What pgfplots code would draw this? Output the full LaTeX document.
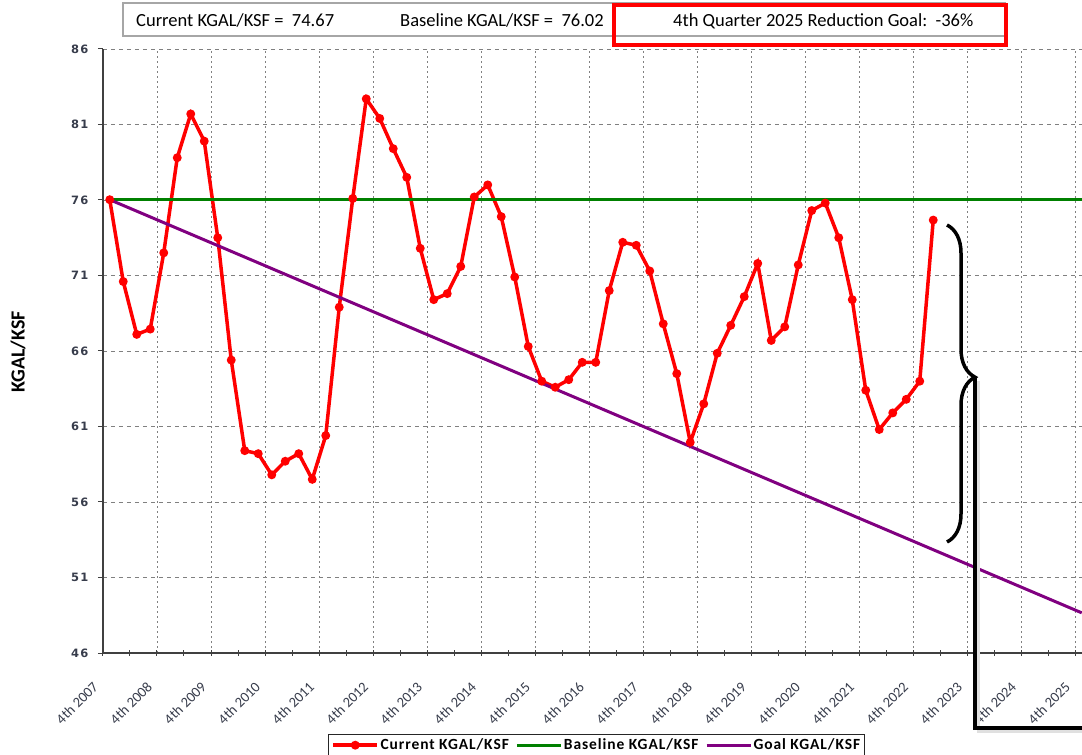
\documentclass[border=0pt]{standalone}
\usepackage{fontspec}
\setmainfont{Carlito}
\newfontfamily\ytickfont{DejaVu Sans}[LetterSpace=10]
\newfontfamily\xtickfont{Carlito}
\newfontfamily\legfont{Carlito}[LetterSpace=6]
\usepackage{pgfplots}
\pgfplotsset{compat=1.18}
\usetikzlibrary{decorations.pathreplacing}
\definecolor{cred}{RGB}{255,0,0}
\definecolor{cgreen}{RGB}{0,128,0}
\definecolor{cpurple}{RGB}{128,0,128}
\definecolor{axisgray}{RGB}{64,64,64}
\definecolor{gridgray}{RGB}{128,128,128}
\definecolor{boxgray}{RGB}{166,166,166}
\definecolor{ticktext}{RGB}{55,60,75}
\begin{document}
\begin{tikzpicture}[x=1pt,y=1pt]
\begin{axis}[
  at={(0,0)}, anchor=south west,
  scale only axis, width=978.75pt, height=604pt,
  xmin=-0.5, xmax=72, ymin=46, ymax=86,
  axis lines=left,
  axis line style={-, draw=axisgray, line width=1.2pt},
  /pgf/number format/assume math mode=true,
  xtick={-0.5,3.5,...,71.5},
  minor xtick={1.5,5.5,...,69.5},
  xticklabels={4th 2007,4th 2008,4th 2009,4th 2010,4th 2011,4th 2012,4th 2013,4th 2014,4th 2015,4th 2016,4th 2017,4th 2018,4th 2019,4th 2020,4th 2021,4th 2022,4th 2023,4th 2024,4th 2025},
  ytick={46,51,...,86},
  tick align=center,
  major tick length=5pt, minor tick length=5pt,
  tick style={draw=axisgray, line width=1pt},
  ytick style={xshift=-2.5pt},
  xmajorgrids, ymajorgrids,
  x grid style={draw=gridgray, line width=0.9pt, dash pattern=on 2pt off 3pt},
  y grid style={draw=gridgray, line width=0.9pt, dash pattern=on 4pt off 4pt},
  xticklabel style={font=\xtickfont\fontsize{14.5}{14.5}\selectfont, text=ticktext, inner sep=0pt, xshift=-11pt, yshift=-25pt, rotate=45, anchor=north east},
  yticklabel style={font=\ytickfont\bfseries\fontsize{11.5}{12}\selectfont, text=ticktext, inner sep=0pt, anchor=east, xshift=-12pt},
  legend columns=3,
  legend style={at={(0.2299,-0.1341)}, anchor=north west, draw=black!85, line width=1pt,
    inner xsep=3pt, inner ysep=3pt,
    font=\legfont\bfseries\fontsize{15.5}{16}\selectfont,
    nodes={inner sep=1.5pt},
    /tikz/every even column/.append style={column sep=5pt}},
  legend image code/.code={\draw[mark repeat=2,mark phase=2,#1] plot coordinates {(0pt,0pt) (22pt,0pt) (44pt,0pt)};},
]
\addplot[cred, line width=3.5pt, mark=*, mark size=2.6pt, mark options={solid}] coordinates {
(0,76.02) (1,70.6) (2,67.1) (3,67.45) (4,72.5) (5,78.8) (6,81.7) (7,79.9) (8,73.5) (9,65.4)
(10,59.4) (11,59.2) (12,57.8) (13,58.7) (14,59.2) (15,57.5) (16,60.4) (17,68.9) (18,76.1) (19,82.7)
(20,81.4) (21,79.4) (22,77.5) (23,72.8) (24,69.4) (25,69.8) (26,71.6) (27,76.2) (28,77.0) (29,74.9)
(30,70.9) (31,66.3) (32,64.0) (33,63.6) (34,64.1) (35,65.25) (36,65.25) (37,70.0) (38,73.2) (39,73.0)
(40,71.3) (41,67.8) (42,64.5) (43,59.95) (44,62.5) (45,65.85) (46,67.7) (47,69.6) (48,71.8) (49,66.7)
(50,67.6) (51,71.7) (52,75.3) (53,75.8) (54,73.5) (55,69.4) (56,63.4) (57,60.8) (58,61.9) (59,62.8)
(60,64.0) (61,74.67)
};
\addlegendentry{Current KGAL/KSF}
\addplot[cgreen, line width=3pt] coordinates {(0,76.02) (72,76.02)};
\addlegendentry{Baseline KGAL/KSF}
\addplot[cpurple, line width=3pt] coordinates {
(0,76.02) (4,74.50) (8,72.98) (12,71.46) (16,69.94) (20,68.42) (24,66.90) (28,65.38) (32,63.86)
(36,62.34) (40,60.82) (44,59.30) (48,57.78) (52,56.26) (56,54.74) (60,53.22) (64,51.70) (68,50.18) (72,48.66)
};
\addlegendentry{Goal KGAL/KSF}
\end{axis}
% y label
\node[rotate=90, font=\bfseries\fontsize{20}{20}\selectfont, inner sep=0pt] at (-85,301) {KGAL/KSF};
% header
\draw[draw=boxgray, line width=1.2pt, fill=white] (20,650) rectangle (902,617);
\begin{scope}[every node/.style={anchor=base west, inner sep=0pt, font=\fontsize{18.5}{20}\selectfont}]
\node at (33,626) {Current KGAL/KSF =~~74.67};
\node at (297,626) {Baseline KGAL/KSF =~~76.02};
\node at (570,626) {4th Quarter 2025 Reduction Goal:~~-36\%};
\end{scope}
\draw[cred, line width=4pt] (511,648) rectangle (903,608);
% brace and bracket line
\draw[line width=3.5pt, decorate, decoration={brace, amplitude=28pt, aspect=0.48}] (844,428) -- (844,111);
\draw[line width=3pt, black!12] (875,272) -- (875,-78) -- (990,-78);
\draw[line width=4.5pt, black] (872,276) -- (872,-75) -- (990,-75);
\pgfresetboundingbox
\path (-103,-102) rectangle (979,653);
\end{tikzpicture}
\end{document}
